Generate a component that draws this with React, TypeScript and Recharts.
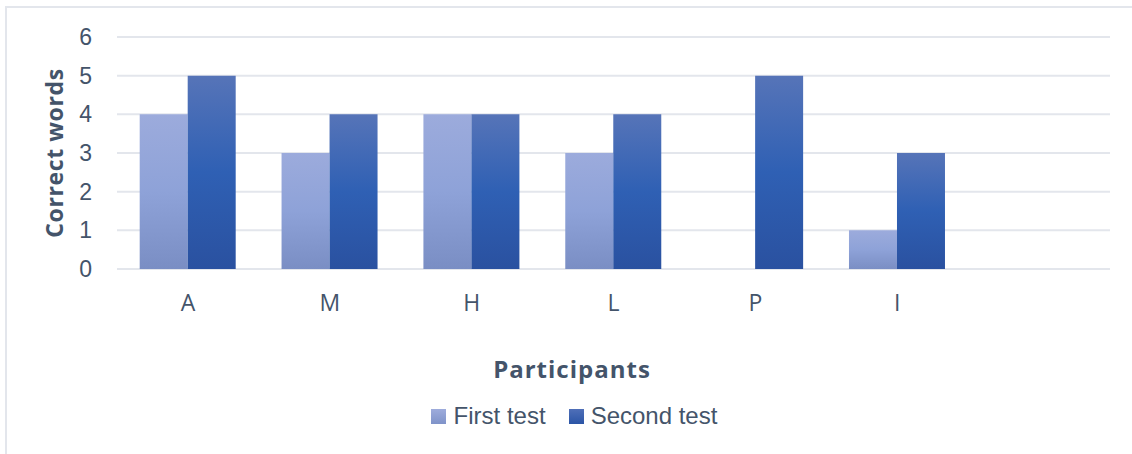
import React from 'react';
import { BarChart, Bar, XAxis, YAxis, CartesianGrid, Legend } from 'recharts';

const participants = ['A', 'M', 'H', 'L', 'P', 'I', ''];
const firstTest = [4, 3, 4, 3, 0, 1, null];
const secondTest = [5, 4, 4, 4, 5, 3, null];
const yTicks = [0, 1, 2, 3, 4, 5, 6];

const data = participants.map((name, i) => ({
  name,
  first: firstTest[i],
  second: secondTest[i],
}));

const TEXT = '#44546a';
const TITLE_FONT = '"Open Sans", Lato, sans-serif';

const LegendContent = () => (
  <div
    style={{
      display: 'flex',
      justifyContent: 'center',
      alignItems: 'center',
      paddingLeft: 38,
      fontFamily: '"Liberation Sans", Arial, sans-serif',
      fontSize: 24,
      color: TEXT,
    }}
  >
    <span style={{ display: 'flex', alignItems: 'center', marginRight: 23 }}>
      <span
        style={{
          width: 15,
          height: 15,
          marginRight: 8,
          background: 'linear-gradient(#9eacdc, #7f93c9)',
        }}
      />
      First test
    </span>
    <span style={{ display: 'flex', alignItems: 'center' }}>
      <span
        style={{
          width: 15,
          height: 15,
          marginRight: 7,
          background: 'linear-gradient(#4f6fb8, #2b55a6)',
        }}
      />
      Second test
    </span>
  </div>
);

const App: React.FC = () => {
  return (
    <div
      style={{
        position: 'fixed',
        left: 0,
        top: 0,
        width: 1132,
        height: 454,
        background: '#fff',
      }}
    >
      <div
        style={{
          position: 'absolute',
          left: 5,
          top: 6,
          right: 0,
          bottom: 0,
          borderTop: '2px solid #e3e6ec',
          borderLeft: '2px solid #e3e6ec',
        }}
      />
      <BarChart
        width={1132}
        height={454}
        data={data}
        margin={{ top: 37, right: 22, bottom: 32, left: 0 }}
        barCategoryGap="16%"
        barGap={0}
      >
        <defs>
          <linearGradient id="gFirst" x1="0" y1="0" x2="0" y2="1">
            <stop offset="0%" stopColor="#9cabdc" />
            <stop offset="50%" stopColor="#8ea2d8" />
            <stop offset="100%" stopColor="#7a8ec4" />
          </linearGradient>
          <linearGradient id="gSecond" x1="0" y1="0" x2="0" y2="1">
            <stop offset="0%" stopColor="#5674b8" />
            <stop offset="50%" stopColor="#2f60b4" />
            <stop offset="100%" stopColor="#2a51a0" />
          </linearGradient>
        </defs>
        <CartesianGrid vertical={false} stroke="#e3e6ec" strokeWidth={2} />
        <XAxis
          dataKey="name"
          axisLine={false}
          tickLine={false}
          tickMargin={20}
          height={125}
          tick={{ fill: TEXT, fontSize: 23, fontFamily: '"Open Sans", sans-serif' }}
          label={{
            content: () => (
              <text
                x={572}
                y={378}
                textAnchor="middle"
                fill={TEXT}
                fontSize={24}
                fontWeight={700}
                letterSpacing={1}
                fontFamily={TITLE_FONT}
              >
                Participants
              </text>
            ),
          }}
        />
        <YAxis
          width={117}
          domain={[0, 6]}
          ticks={yTicks}
          axisLine={false}
          tickLine={false}
          tickMargin={19}
          tick={{ fill: TEXT, fontSize: 23, fontFamily: '"Liberation Sans", Arial, sans-serif' }}
          label={{
            content: ({ viewBox }: any) => {
              const cy = viewBox.y + viewBox.height / 2;
              return (
                <text
                  x={63}
                  y={cy}
                  transform={`rotate(-90, 63, ${cy})`}
                  textAnchor="middle"
                  fill={TEXT}
                  fontSize={23}
                  fontWeight={700}
                  letterSpacing={0.6}
                  fontFamily={TITLE_FONT}
                >
                  Correct words
                </text>
              );
            },
          }}
        />
        <Legend verticalAlign="bottom" content={<LegendContent />} wrapperStyle={{ bottom: 24 }} />
        <Bar dataKey="first" name="First test" fill="url(#gFirst)" isAnimationActive={false} />
        <Bar dataKey="second" name="Second test" fill="url(#gSecond)" isAnimationActive={false} />
      </BarChart>
    </div>
  );
};

export default App;
